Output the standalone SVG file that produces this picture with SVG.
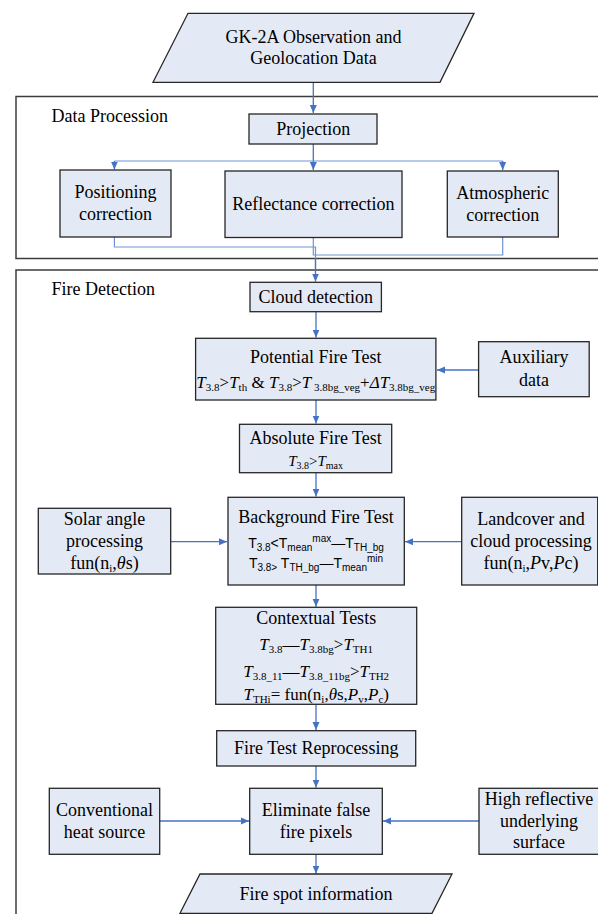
<svg xmlns="http://www.w3.org/2000/svg" width="598" height="914" viewBox="0 0 598 914" font-family="Liberation Serif, serif">
<defs>
<style>
.sec{fill:none;stroke:#3c3c3c;stroke-width:1.5}
.box{fill:#E4EAF5;stroke:#262626;stroke-width:1.3}
.t{font-size:18px;fill:#000;text-anchor:middle}
.lbl{font-size:18px;fill:#000}
.f{font-size:17px;fill:#000;text-anchor:middle}
.fs{font-size:14px;fill:#000;text-anchor:middle}
.i{font-style:italic}
.s{font-size:11px}
.ss{font-size:10px}
.c{fill:none;stroke:#4472C4;stroke-width:1.3}
.cl{fill:none;stroke:#6F95D8;stroke-width:1.2}
</style>
<marker id="ah" markerWidth="8" markerHeight="8" refX="8" refY="4" orient="auto" markerUnits="userSpaceOnUse">
<path d="M0,0.5 L8,4 L0,7.5 z" fill="#4472C4"/>
</marker>
</defs>

<g id="sections">
<rect id="data-procession" class="sec" x="16" y="96.5" width="600" height="162"/>
<text class="lbl" x="51.5" y="121.7">Data Procession</text>
<rect id="fire-detection" class="sec" x="16" y="270" width="600" height="660"/>
<text class="lbl" x="51.5" y="295">Fire Detection</text>
</g>

<g id="connectors">
<path class="c" d="M313.3,82.3 V113" marker-end="url(#ah)"/>
<path class="c" d="M313.3,144 V170" marker-end="url(#ah)"/>
<path class="cl" d="M114.4,161 H502.7"/>
<path class="c" d="M114.4,161 V169.5" marker-end="url(#ah)"/>
<path class="c" d="M502.7,161 V170" marker-end="url(#ah)"/>
<path class="cl" d="M114.4,237 V247 H315.5 V270"/>
<path class="c" d="M315.5,258 V281.5" marker-end="url(#ah)"/>
<path class="cl" d="M313.3,237.5 V255 H502.7 V237"/>
<path class="c" d="M316,311.7 V337.5" marker-end="url(#ah)"/>
<path class="c" d="M478.6,370 H437" marker-end="url(#ah)"/>
<path class="c" d="M316,400 V423.5" marker-end="url(#ah)"/>
<path class="c" d="M316,472.7 V496.5" marker-end="url(#ah)"/>
<path class="c" d="M170.7,541.7 H227" marker-end="url(#ah)"/>
<path class="c" d="M461.7,541.7 H405" marker-end="url(#ah)"/>
<path class="c" d="M316,585 V606.7" marker-end="url(#ah)"/>
<path class="c" d="M316,704.3 V730" marker-end="url(#ah)"/>
<path class="c" d="M316,766 V787.5" marker-end="url(#ah)"/>
<path class="c" d="M159.7,821 H249" marker-end="url(#ah)"/>
<path class="c" d="M479,821 H383" marker-end="url(#ah)"/>
<path class="c" d="M316,854.3 V873.5" marker-end="url(#ah)"/>
</g>

<g id="gk2a-input">
<polygon class="box" points="188,13.3 474,13.3 440,82.3 153,82.3"/>
<text class="t" x="313.5" y="42.7">GK-2A Observation and</text>
<text class="t" x="313.5" y="64.3">Geolocation Data</text>
</g>

<g id="projection">
<rect class="box" x="249" y="114" width="128" height="30"/>
<text class="t" x="313.3" y="134.5">Projection</text>
</g>

<g id="positioning-correction">
<rect class="box" x="60" y="170" width="111" height="67"/>
<text class="t" x="115.5" y="198.3">Positioning</text>
<text class="t" x="115.5" y="220">correction</text>
</g>

<g id="reflectance-correction">
<rect class="box" x="225" y="171" width="177" height="66.5"/>
<text class="t" x="313.4" y="210">Reflectance correction</text>
</g>

<g id="atmospheric-correction">
<rect class="box" x="447.3" y="171" width="111" height="66"/>
<text class="t" x="502.7" y="199">Atmospheric</text>
<text class="t" x="502.7" y="220.5">correction</text>
</g>

<g id="cloud-detection">
<rect class="box" x="250" y="282.3" width="131.4" height="29.4"/>
<text class="t" x="315.7" y="303.3">Cloud detection</text>
</g>

<g id="potential-fire-test">
<rect class="box" x="195.6" y="338.3" width="240.3" height="61.7"/>
<text class="t" x="315.8" y="363.3">Potential Fire Test</text>
<text class="f" x="315.8" y="388"><tspan class="i">T</tspan><tspan class="s" dy="3">3.8</tspan><tspan dy="-3">&gt;</tspan><tspan class="i">T</tspan><tspan class="s" dy="3">th</tspan><tspan dy="-3"> &amp; </tspan><tspan class="i">T</tspan><tspan class="s" dy="3">3.8</tspan><tspan dy="-3">&gt;</tspan><tspan class="i">T</tspan><tspan class="s" dy="3"> 3.8bg_veg</tspan><tspan dy="-3">+</tspan><tspan class="i">ΔT</tspan><tspan class="s" dy="3">3.8bg_veg</tspan></text>
</g>

<g id="auxiliary-data">
<rect class="box" x="478.6" y="341.7" width="110.6" height="55"/>
<text class="t" x="533.9" y="363.3">Auxiliary</text>
<text class="t" x="533.9" y="385.5">data</text>
</g>

<g id="absolute-fire-test">
<rect class="box" x="239.5" y="424.3" width="152.2" height="48.4"/>
<text class="t" x="315.6" y="443.5">Absolute Fire Test</text>
<text class="f" x="315.6" y="466" style="font-size:15px"><tspan class="i">T</tspan><tspan class="ss" dy="3">3.8</tspan><tspan dy="-3">&gt;</tspan><tspan class="i">T</tspan><tspan class="ss" dy="3">max</tspan></text>
</g>

<g id="background-fire-test">
<rect class="box" x="228" y="497.3" width="176.3" height="87.7"/>
<text class="t" x="316" y="523">Background Fire Test</text>
<text class="fs" x="316" y="548" font-family="Liberation Sans, sans-serif"><tspan>T</tspan><tspan class="ss" dy="3">3.8</tspan><tspan dy="-3">&lt;T</tspan><tspan class="ss" dy="3">mean</tspan><tspan class="ss" dy="-9">max</tspan><tspan dy="6">—T</tspan><tspan class="ss" dy="3">TH_bg</tspan></text>
<text class="fs" x="316" y="568" font-family="Liberation Sans, sans-serif"><tspan>T</tspan><tspan class="ss" dy="3">3.8&gt;</tspan><tspan dy="-3"> T</tspan><tspan class="ss" dy="3">TH_bg</tspan><tspan dy="-3">—T</tspan><tspan class="ss" dy="3">mean</tspan><tspan class="ss" dy="-9">min</tspan></text>
</g>

<g id="solar-angle-processing">
<rect class="box" x="38.3" y="508.3" width="132.4" height="65.7"/>
<text class="t" x="104.5" y="525">Solar angle</text>
<text class="t" x="104.5" y="547">processing</text>
<text class="t" x="104.5" y="569.3">fun(n<tspan class="s" dy="3">i</tspan><tspan dy="-3">,</tspan><tspan class="i">θ</tspan>s)</text>
</g>

<g id="landcover-cloud-processing">
<rect class="box" x="461.7" y="497.3" width="136" height="87.7"/>
<text class="t" x="531" y="525">Landcover and</text>
<text class="t" x="531" y="547">cloud processing</text>
<text class="t" x="531" y="568.5">fun(n<tspan class="s" dy="3">i</tspan><tspan dy="-3">,</tspan><tspan class="i">P</tspan>v,<tspan class="i">P</tspan>c)</text>
</g>

<g id="contextual-tests">
<rect class="box" x="215.7" y="607.3" width="201" height="97"/>
<text class="t" x="316.2" y="624">Contextual Tests</text>
<text class="f" x="316.2" y="650"><tspan class="i">T</tspan><tspan class="s" dy="3">3.8</tspan><tspan dy="-3">—</tspan><tspan class="i">T</tspan><tspan class="s" dy="3">3.8bg</tspan><tspan dy="-3">&gt;</tspan><tspan class="i">T</tspan><tspan class="s" dy="3">TH1</tspan></text>
<text class="f" x="316.2" y="676.7"><tspan class="i">T</tspan><tspan class="s" dy="3">3.8_11</tspan><tspan dy="-3">—</tspan><tspan class="i">T</tspan><tspan class="s" dy="3">3.8_11bg</tspan><tspan dy="-3">&gt;</tspan><tspan class="i">T</tspan><tspan class="s" dy="3">TH2</tspan></text>
<text class="f" x="316.2" y="700"><tspan class="i">T</tspan><tspan class="s" dy="3">THi</tspan><tspan dy="-3">= fun(n</tspan><tspan class="s" dy="3">i</tspan><tspan dy="-3">,</tspan><tspan class="i">θ</tspan><tspan>s,</tspan><tspan class="i">P</tspan><tspan class="s" dy="3">v</tspan><tspan dy="-3">,</tspan><tspan class="i">P</tspan><tspan class="s" dy="3">c</tspan><tspan dy="-3">)</tspan></text>
</g>

<g id="fire-test-reprocessing">
<rect class="box" x="216.7" y="730.7" width="199" height="35.3"/>
<text class="t" x="316.2" y="754">Fire Test Reprocessing</text>
</g>

<g id="eliminate-false-fire-pixels">
<rect class="box" x="249.7" y="788.3" width="132.6" height="66"/>
<text class="t" x="316" y="816">Eliminate false</text>
<text class="t" x="316" y="837.5">fire pixels</text>
</g>

<g id="conventional-heat-source">
<rect class="box" x="49.3" y="788.3" width="110.4" height="66"/>
<text class="t" x="104.5" y="816">Conventional</text>
<text class="t" x="104.5" y="837.5">heat source</text>
</g>

<g id="high-reflective-surface">
<rect class="box" x="479" y="788.3" width="122" height="66"/>
<text class="t" x="539" y="805">High reflective</text>
<text class="t" x="539" y="826.7">underlying</text>
<text class="t" x="539" y="848.3">surface</text>
</g>

<g id="fire-spot-information">
<polygon class="box" points="200,874 452,874 432,913.3 180,913.3"/>
<text class="t" x="316" y="900">Fire spot information</text>
</g>
</svg>
